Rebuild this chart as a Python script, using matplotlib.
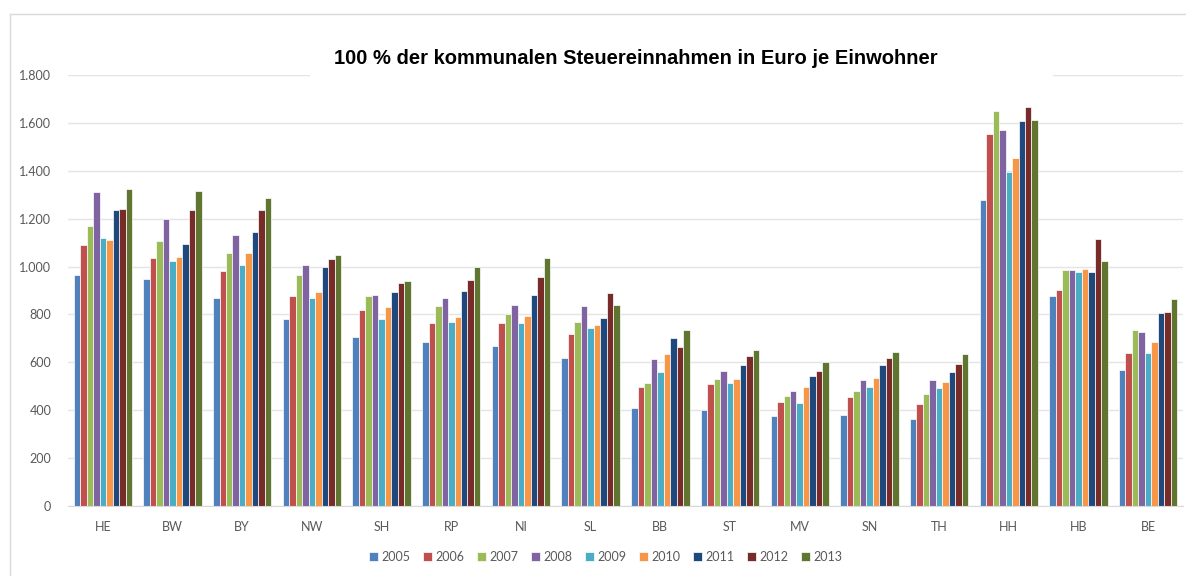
import matplotlib.pyplot as plt
from matplotlib.lines import Line2D
from matplotlib.patches import Rectangle
from matplotlib.ticker import FuncFormatter, MultipleLocator
import numpy as np

laender = ["HE", "BW", "BY", "NW", "SH", "RP", "NI", "SL",
           "BB", "ST", "MV", "SN", "TH", "HH", "HB", "BE"]
jahre = ["2005", "2006", "2007", "2008", "2009", "2010", "2011", "2012", "2013"]

# Euro je Einwohner, eine Liste pro Jahr (Reihenfolge wie laender)
v2005 = [965, 950, 870, 780, 705, 685, 670, 620, 410, 400, 375, 378, 362, 1279, 876, 570]
v2006 = [1090, 1035, 980, 875, 820, 765, 765, 720, 495, 510, 435, 455, 424, 1554, 901, 640]
v2007 = [1170, 1105, 1055, 965, 875, 835, 800, 770, 515, 530, 460, 480, 469, 1650, 987, 737]
v2008 = [1310, 1200, 1130, 1005, 880, 870, 840, 835, 615, 565, 480, 528, 525, 1571, 987, 726]
v2009 = [1120, 1025, 1005, 870, 780, 770, 765, 745, 560, 515, 430, 498, 494, 1394, 977, 639]
v2010 = [1110, 1040, 1055, 895, 830, 790, 795, 755, 635, 530, 495, 535, 517, 1455, 991, 684]
v2011 = [1235, 1095, 1145, 1000, 895, 900, 880, 785, 700, 590, 545, 588, 559, 1606, 977, 804]
v2012 = [1240, 1235, 1235, 1030, 930, 945, 955, 890, 665, 625, 565, 619, 595, 1665, 1116, 809]
v2013 = [1325, 1315, 1285, 1050, 940, 1000, 1035, 840, 735, 650, 600, 644, 633, 1610, 1025, 865]
werte = [v2005, v2006, v2007, v2008, v2009, v2010, v2011, v2012, v2013]

farben = ["#4F81BD", "#C0504D", "#9BBB59", "#8064A2", "#4BACC6",
          "#F79646", "#1F497D", "#772C2A", "#5F7530"]

fig = plt.figure(figsize=(11.86, 5.76), dpi=100)
ax = fig.add_axes([68 / 1186, 70 / 576, 1115 / 1186, 431 / 576])

x = np.arange(len(laender))
breite = 0.093
for i, (jahr, vals) in enumerate(zip(jahre, werte)):
    ax.bar(x + (i - 4) * breite, vals, width=breite, color=farben[i],
           edgecolor="white", linewidth=0.5, label=jahr, zorder=3)

ax.set_xlim(-0.5, len(laender) - 0.5)
ax.set_ylim(0, 1800)
ax.yaxis.set_major_locator(MultipleLocator(200))
ax.yaxis.set_major_formatter(FuncFormatter(lambda v, p: f"{int(v):,}".replace(",", ".")))
ax.set_xticks(x)
ax.set_xticklabels(laender)
ax.grid(axis="y", color="#E4E4E4", linewidth=1, zorder=0)
ax.tick_params(length=0, labelsize=9, labelcolor="#595959")
ax.tick_params(axis="y", pad=12)
ax.tick_params(axis="x", pad=11)
for lab in ax.get_xticklabels() + ax.get_yticklabels():
    lab.set_family("Lato")
for s in ["top", "right", "left"]:
    ax.spines[s].set_visible(False)
ax.spines["bottom"].set_color("#D9D9D9")
ax.spines["bottom"].set_zorder(4)

# weisser Hintergrund hinter dem Titel, unterbricht die oberste Gitterlinie
fig.add_artist(Rectangle((310 / 1186, (576 - 88) / 576), 743 / 1186, 48 / 576,
                         transform=fig.transFigure, facecolor="white",
                         edgecolor="none", zorder=5))
fig.text(636 / 1186, (576 - 58) / 576,
         "100 % der kommunalen Steuereinnahmen in Euro je Einwohner",
         ha="center", va="center", fontsize=14.5, fontweight="bold",
         family="Liberation Sans", zorder=6)

# Rahmen des Diagrammbereichs
fig.add_artist(Line2D([10 / 1186, 10 / 1186], [0, (576 - 14) / 576],
                      transform=fig.transFigure, color="#D9D9D9", linewidth=1))
fig.add_artist(Line2D([10 / 1186, 1], [(576 - 14) / 576, (576 - 14) / 576],
                      transform=fig.transFigure, color="#D9D9D9", linewidth=1))

leg = fig.legend(loc="center", bbox_to_anchor=(606 / 1186, 19 / 576), ncol=9,
                 frameon=False, handlelength=0.7, handleheight=0.7,
                 handletextpad=0.3, columnspacing=1.0, prop={"family": "Lato", "size": 9})
for t in leg.get_texts():
    t.set_color("#595959")

fig.savefig("out.png", dpi=100)
